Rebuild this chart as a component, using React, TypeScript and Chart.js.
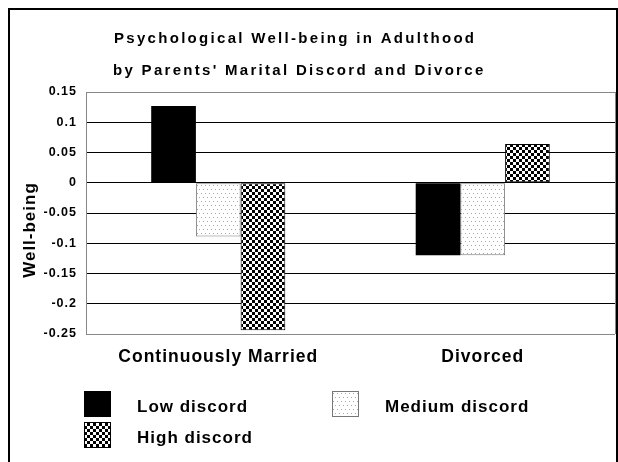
import React, { useEffect, useRef } from 'react';
import { Chart, registerables } from 'chart.js';

Chart.register(...registerables);

const categories = ['Continuously Married', 'Divorced'];
const seriesLabels = ['Low discord', 'Medium discord', 'High discord'];
const lowDiscord = [0.127, -0.12];
const mediumDiscord = [-0.089, -0.12];
const highDiscord = [-0.244, 0.064];
const titleLines = ['Psychological Well-being in Adulthood', "by Parents' Marital Discord and Divorce"];
const yAxisTitle = 'Well-being';
const yMin = -0.25;
const yMax = 0.15;
const yStep = 0.05;

const FAMILY = "'Liberation Sans', Arial, Helvetica, sans-serif";

function makeDots(): CanvasPattern | string {
  const c = document.createElement('canvas');
  c.width = 8;
  c.height = 8;
  const g = c.getContext('2d');
  if (!g) return '#eee';
  g.fillStyle = '#fff';
  g.fillRect(0, 0, 8, 8);
  g.fillStyle = '#a8a8a8';
  g.fillRect(1, 1, 1, 1);
  g.fillRect(5, 1, 1, 1);
  g.fillRect(3, 5, 1, 1);
  g.fillRect(7, 5, 1, 1);
  return g.createPattern(c, 'repeat') || '#eee';
}

function makeChecker(): CanvasPattern | string {
  const c = document.createElement('canvas');
  c.width = 6;
  c.height = 6;
  const g = c.getContext('2d');
  if (!g) return '#555';
  g.fillStyle = '#fff';
  g.fillRect(0, 0, 6, 6);
  g.fillStyle = '#000';
  g.fillRect(0, 0, 3, 3);
  g.fillRect(3, 3, 3, 3);
  return g.createPattern(c, 'repeat') || '#555';
}

const spacingPlugin = {
  id: 'spacing',
  beforeUpdate(chart: any) {
    chart.ctx.letterSpacing = '1px';
  },
  beforeDraw(chart: any) {
    chart.ctx.letterSpacing = '1px';
  },
};

const decorPlugin = {
  id: 'decor',
  afterDraw(chart: any) {
    const ctx: CanvasRenderingContext2D = chart.ctx;
    const area = chart.chartArea;
    ctx.save();
    // plot right border
    ctx.strokeStyle = '#888';
    ctx.lineWidth = 1;
    ctx.beginPath();
    ctx.moveTo(area.right + 0.5, area.top);
    ctx.lineTo(area.right + 0.5, area.bottom);
    ctx.stroke();

    // outer frame
    ctx.strokeStyle = '#000';
    ctx.lineWidth = 2;
    ctx.beginPath();
    ctx.moveTo(9, chart.height + 5);
    ctx.lineTo(9, 9);
    ctx.lineTo(617, 9);
    ctx.lineTo(617, chart.height + 5);
    ctx.stroke();

    // title
    ctx.fillStyle = '#000';
    ctx.textAlign = 'left';
    ctx.textBaseline = 'alphabetic';
    (ctx as any).letterSpacing = '2.3px';
    ctx.font = `bold 15px ${FAMILY}`;
    ctx.fillText(titleLines[0], 114, 43);
    ctx.fillText(titleLines[1], 113, 75);
    (ctx as any).letterSpacing = '1px';

    // y axis title
    ctx.save();
    ctx.translate(30, (area.top + area.bottom) / 2 + 17);
    ctx.rotate(-Math.PI / 2);
    ctx.textAlign = 'center';
    ctx.textBaseline = 'middle';
    ctx.font = `bold 17px ${FAMILY}`;
    ctx.fillText(yAxisTitle, 0, 0);
    ctx.restore();

    // legend
    const slots = [
      { x: 84, y: 391 },
      { x: 332, y: 391 },
      { x: 84, y: 422 },
    ];
    ctx.font = `bold 17px ${FAMILY}`;
    ctx.textAlign = 'left';
    ctx.textBaseline = 'alphabetic';
    chart.data.datasets.forEach((ds: any, i: number) => {
      const s = slots[i];
      if (!s) return;
      ctx.fillStyle = ds.backgroundColor;
      ctx.fillRect(s.x, s.y, 27, 26);
      if (ds.borderWidth > 0) {
        ctx.strokeStyle = ds.borderColor;
        ctx.lineWidth = 1;
        ctx.strokeRect(s.x + 0.5, s.y + 0.5, 26, 25);
      }
      ctx.fillStyle = '#000';
      ctx.fillText(ds.label, s.x + 53, s.y + 20.5);
    });
    ctx.restore();
  },
};

export default function App() {
  const ref = useRef<HTMLCanvasElement | null>(null);

  useEffect(() => {
    if (!ref.current) return;
    const dots = makeDots();
    const checker = makeChecker();
    const chart = new Chart(ref.current, {
      type: 'bar',
      data: {
        labels: categories,
        datasets: [
          {
            label: seriesLabels[0],
            data: lowDiscord,
            backgroundColor: '#000',
            borderColor: '#000',
            borderWidth: 0,
            borderSkipped: false,
          },
          {
            label: seriesLabels[1],
            data: mediumDiscord,
            backgroundColor: dots as any,
            borderColor: '#777',
            borderWidth: 1,
            borderSkipped: false,
          },
          {
            label: seriesLabels[2],
            data: highDiscord,
            backgroundColor: checker as any,
            borderColor: '#000',
            borderWidth: 1,
            borderSkipped: false,
          },
        ],
      },
      options: {
        animation: false,
        responsive: false,
        devicePixelRatio: 1,
        datasets: {
          bar: {
            barPercentage: 1,
            categoryPercentage: 0.507,
          },
        },
        layout: {
          padding: { left: 10, right: 3, top: 92, bottom: 88 },
        },
        plugins: {
          legend: { display: false },
          title: { display: false },
          tooltip: { enabled: false },
        },
        scales: {
          x: {
            grid: { display: false, drawTicks: false },
            border: { display: false },
            ticks: {
              color: '#000',
              padding: 13,
              font: { family: FAMILY, size: 17.5, weight: 'bold' },
            },
            afterFit: (s: any) => {
              s.height = 40;
            },
          },
          y: {
            min: yMin,
            max: yMax,
            grid: {
              drawTicks: false,
              lineWidth: 1,
              color: (c: any) => {
                const v = c.tick ? c.tick.value : 0;
                return Math.abs(v - yMax) < 1e-9 || Math.abs(v - yMin) < 1e-9 ? '#888' : '#000';
              },
            },
            border: { display: true, color: '#888', width: 1 },
            ticks: {
              stepSize: yStep,
              color: '#000',
              padding: 9,
              font: { family: FAMILY, size: 12.5, weight: 'bold' },
              callback: (v: any) => String(Number(Number(v).toFixed(2))),
            },
            afterFit: (s: any) => {
              s.width = 76;
            },
          },
        },
      } as any,
      plugins: [spacingPlugin, decorPlugin],
    });
    return () => chart.destroy();
  }, []);

  return (
    <div style={{ position: 'fixed', left: 0, top: 0, width: 618, height: 462, background: '#fff' }}>
      <canvas ref={ref} width={618} height={462} style={{ display: 'block', width: 618, height: 462 }} />
    </div>
  );
}
